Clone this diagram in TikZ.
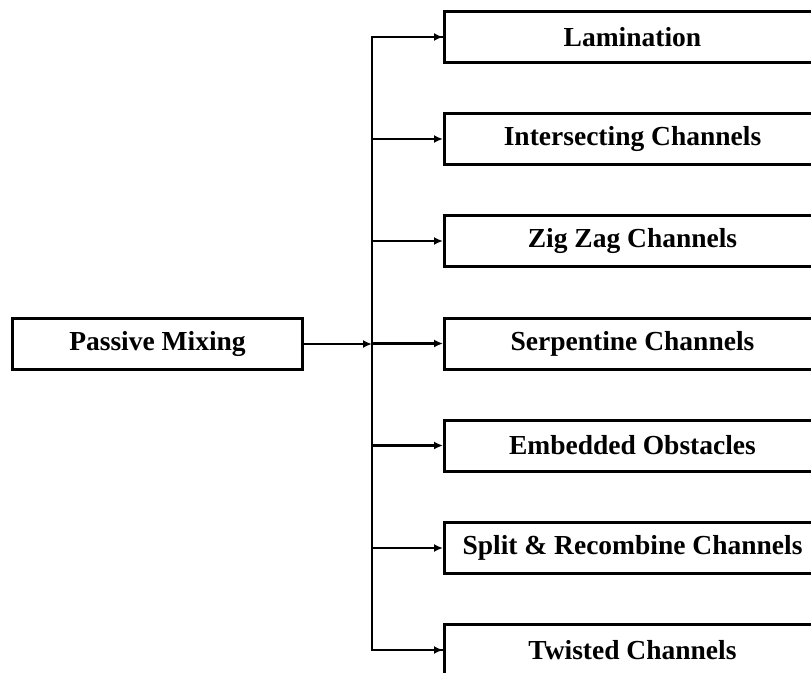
\documentclass[tikz,border=0pt]{standalone}
\usepackage{fontspec}
\setmainfont{Liberation Serif}
\usetikzlibrary{arrows.meta}
\begin{document}
\begin{tikzpicture}[x=1bp,y=-1bp,
  box/.style={draw, line width=3bp, minimum width=376bp, minimum height=51bp, inner sep=0pt,
    font=\fontsize{27.5bp}{30bp}\selectfont\bfseries},
  srcbox/.style={draw, line width=3bp, minimum width=289bp, minimum height=51bp, inner sep=0pt,
    font=\fontsize{27.5bp}{30bp}\selectfont\bfseries},
  conn/.style={line width=2.6bp, -{Latex[length=9bp,width=8bp]}},
  trunk/.style={line width=2.6bp, line join=miter}]
\useasboundingbox (0,0) rectangle (811,673);
\clip (0,0) rectangle (811,673);
\node[srcbox] (pm) at (157.5,344) {Passive Mixing};
\node[box, anchor=west] (b1) at (443,37) {Lamination};
\node[box, anchor=west] (b2) at (443,139) {Intersecting Channels};
\node[box, anchor=west] (b3) at (443,241) {Zig Zag Channels};
\node[box, anchor=west] (b4) at (443,343.5) {Serpentine Channels};
\node[box, anchor=west] (b5) at (443,445.5) {Embedded Obstacles};
\node[box, anchor=west] (b6) at (443,548) {Split \& Recombine Channels};
\node[box, anchor=west] (b7) at (443,650) {Twisted Channels};
\coordinate (tt) at (372,37);
\coordinate (tb) at (372,650);
\coordinate (tm) at (372,344);
\draw[trunk] (b1.west) -- (tt) -- (tb) -- (b7.west);
\draw[conn] (pm.east) -- (tm);
\draw[conn] (tt) -- (b1.west);
\draw[conn] (372,139) -- (b2.west);
\draw[conn] (372,241) -- (b3.west);
\draw[conn] (372,343.5) -- (b4.west);
\draw[conn] (372,445.5) -- (b5.west);
\draw[conn] (372,548) -- (b6.west);
\draw[conn] (tb) -- (b7.west);
\end{tikzpicture}
\end{document}
